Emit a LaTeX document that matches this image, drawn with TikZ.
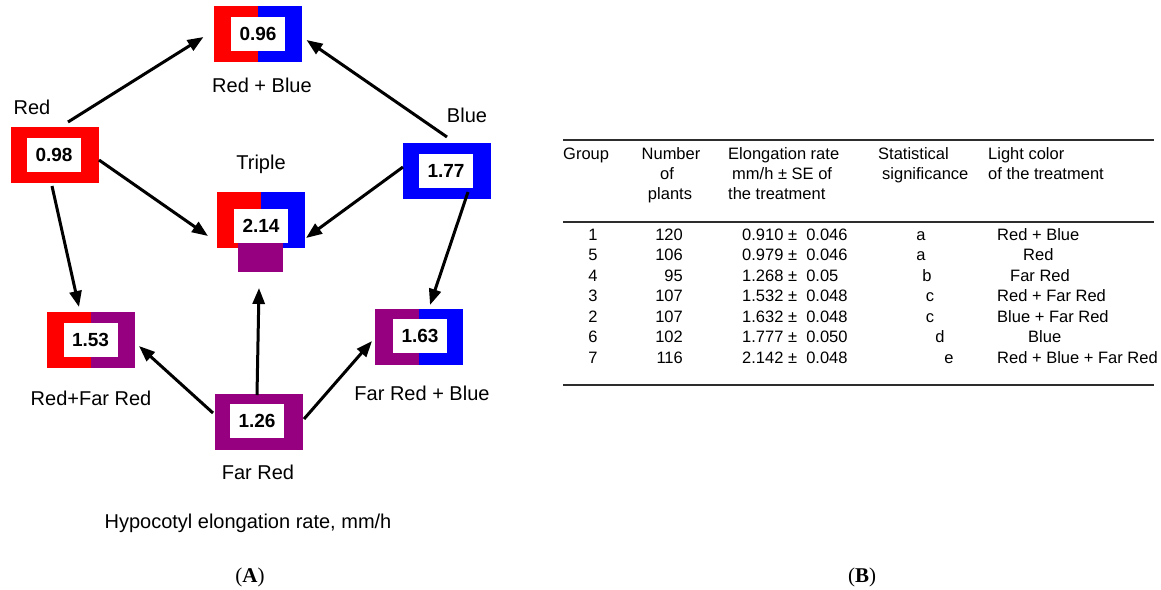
\documentclass[tikz,border=0pt]{standalone}
\usepackage{fontspec}
\setmainfont{Liberation Sans}
\newfontfamily\panelfont{Liberation Serif}
\usetikzlibrary{arrows.meta,calc}

\definecolor{rd}{RGB}{255,0,0}
\definecolor{bl}{RGB}{0,0,255}
\definecolor{fr}{RGB}{150,0,128}
\definecolor{rulecol}{RGB}{45,45,45}

\tikzset{
  frame/.style={minimum width=88pt, minimum height=56pt, inner sep=0pt, outer sep=0pt},
  valbox/.style={fill=white, minimum width=54pt, minimum height=34pt, inner sep=0pt,
                 font=\fontsize{19}{19}\selectfont\bfseries},
  lbl/.style={font=\fontsize{20}{20}\selectfont, inner sep=0pt},
  panel/.style={font=\fontsize{21}{21}\selectfont\panelfont, inner sep=0pt},
  arr/.style={line width=3pt, -{Triangle[length=16pt,width=12pt]}},
  tb/.style={font=\fontsize{16.5}{16.5}\selectfont, inner sep=0pt, anchor=base},
  tbl/.style={tb, anchor=base west},
  tbr/.style={tb, anchor=base east},
  tabrule/.style={draw=rulecol, line width=1.5pt}
}

\begin{document}
\begin{tikzpicture}[x=1pt,y=-1pt]
\path[use as bounding box] (0,0) rectangle (1161,589);

% ---------- panel A: light treatments ----------
% Red + Blue
\node[frame] (rb) at (257.5,34) {};
\fill[rd] (rb.north west) rectangle (rb.south);
\fill[bl] (rb.north) rectangle (rb.south east);
\node[valbox] (vrb) at (258,34) {0.96};

% Red
\node[frame, fill=rd] (red) at (54.5,155) {};
\node[valbox] (vred) at (54,155) {0.98};

% Blue
\node[frame, fill=bl] (blue) at (447,171) {};
\node[valbox] (vblue) at (446,171) {1.77};

% Triple (red + blue + far red)
\node[frame] (triple) at (261,220) {};
\fill[rd] (triple.north west) rectangle (triple.south);
\fill[bl] (triple.north) rectangle (triple.south east);
\node[fill=fr, minimum width=45pt, minimum height=30pt, inner sep=0pt] (tfr) at (260.5,257) {};
\node[valbox] (vtriple) at (261,226) {2.14};

% Far Red + Blue
\node[frame] (frb) at (418.5,337) {};
\fill[fr] (frb.north west) rectangle (frb.south);
\fill[bl] (frb.north) rectangle (frb.south east);
\node[valbox] (vfrb) at (420,336) {1.63};

% Far Red
\node[frame, fill=fr] (far) at (258.5,422) {};
\node[valbox] (vfar) at (257,421) {1.26};

% Red + Far Red
\node[frame] (rfr) at (90.5,340) {};
\fill[rd] (rfr.north west) rectangle (rfr.south);
\fill[fr] (rfr.north) rectangle (rfr.south east);
\node[valbox] (vrfr) at (90.5,340) {1.53};

% labels
\node[lbl] (lred) at (32,107) {Red};
\node[lbl] (lrb) at (262,85) {Red + Blue};
\node[lbl] (lblue) at (467,115) {Blue};
\node[lbl] (ltriple) at (261,164) {Triple};
\node[lbl] (lrfr) at (91,398) {Red+Far Red};
\node[lbl] (lfrb) at (422,393) {Far Red + Blue};
\node[lbl] (lfar) at (258,472) {Far Red};
\node[lbl] (lunit) at (248,523) {Hypocotyl elongation rate, mm/h};

% arrows
\draw[arr] ($(red.north)+(13.5,-5)$) -- ($(rb.west)+(-10,3)$);
\draw[arr] ($(blue.north)+(0,-6)$) -- ($(rb.east)+(5,6)$);
\draw[arr] ($(red.east)+(0.5,5)$) -- ($(triple.west)+(-9,16)$);
\draw[arr] ($(blue.west)+(0,-4)$) -- ($(triple.east)+(1,18)$);
\draw[arr] ($(red.south)+(-2.5,3)$) -- ($(rfr.north)+(-11.5,-5)$);
\draw[arr] ($(blue.south)+(21,-7)$) -- ($(frb.north)+(11.5,-4)$);
\draw[arr] ($(far.north)+(-1.5,1)$) -- ($(triple.south)+(-2,40)$);
\draw[arr] ($(far.west)+(-1.5,-9)$) -- ($(rfr.east)+(4.5,6)$);
\draw[arr] ($(far.east)+(1.5,-3)$) -- ($(frb.west)+(-2.5,4)$);

% ---------- panel B: table ----------
\draw[tabrule] (563,140) -- (1154,140);
\draw[tabrule] (563,222) -- (1154,222);
\draw[tabrule] (563,385) -- (1154,385);

\node[tbl] (h1) at (563,159) {Group};
\node[tb] (h2a) at (671,159) {Number};
\node[tb] (h2b) at (667,179) {of};
\node[tb] (h2c) at (670,199) {plants};
\node[tbl] (h3a) at (728,159) {Elongation rate};
\node[tbl] (h3b) at (732,179) {mm/h ± SE of};
\node[tbl] (h3c) at (728,199) {the treatment};
\node[tbl] (h4a) at (878,159) {Statistical};
\node[tbl] (h4b) at (882,179) {significance};
\node[tbl] (h5a) at (988,159) {Light color};
\node[tbl] (h5b) at (988,179) {of the treatment};

\foreach \g/\n/\m/\s/\sx/\c/\cx [count=\i] in {
  1/120/{0.910 ±~ 0.046}/a/921/{Red + Blue}/997,
  5/106/{0.979 ±~ 0.046}/a/921/{Red}/1023,
  4/95/{1.268 ±~ 0.05}/b/927/{Far Red}/1010,
  3/107/{1.532 ±~ 0.048}/c/930/{Red + Far Red}/997,
  2/107/{1.632 ±~ 0.048}/c/930/{Blue + Far Red}/997,
  6/102/{1.777 ±~ 0.050}/d/940/{Blue}/1028,
  7/116/{2.142 ±~ 0.048}/e/949/{Red + Blue + Far Red}/997}
{
  \pgfmathsetmacro{\yb}{240+(\i-1)*20.5}
  \node[tb]  (g\i) at (593,\yb) {\g};
  \node[tbr] (n\i) at (683,\yb) {\n};
  \node[tbl] (e\i) at (742,\yb) {\m};
  \node[tb]  (s\i) at (\sx,\yb) {\s};
  \node[tbl] (c\i) at (\cx,\yb) {\c};
}

% panel letters: regular parentheses, bold letter
\node[panel] (pa) at (250,577) {(\textbf{A})};
\node[panel] (pb) at (862,577) {(\textbf{B})};
\end{tikzpicture}
\end{document}
